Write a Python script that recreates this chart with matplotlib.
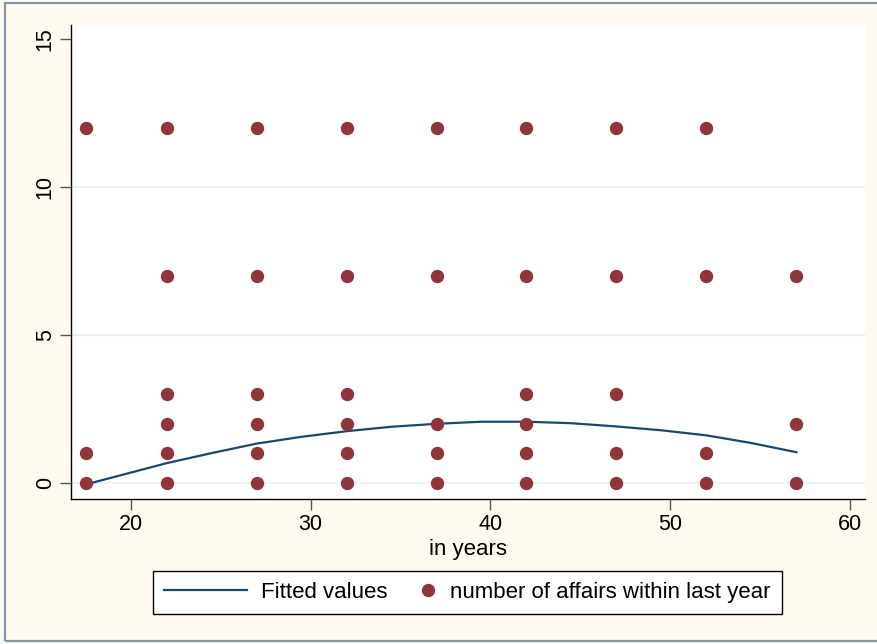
import numpy as np
import matplotlib.pyplot as plt
from matplotlib.patches import Rectangle
from matplotlib.legend_handler import HandlerLine2D

plt.rcParams['font.family'] = ['Liberation Sans', 'DejaVu Sans']

# observed (age, affairs) combinations
age_pts = [17.5, 17.5, 17.5,
           22, 22, 22, 22, 22, 22,
           27, 27, 27, 27, 27, 27,
           32, 32, 32, 32, 32, 32,
           37, 37, 37, 37, 37,
           42, 42, 42, 42, 42, 42,
           47, 47, 47, 47, 47,
           52, 52, 52, 52,
           57, 57, 57]
affairs_pts = [12, 1, 0,
               12, 7, 3, 2, 1, 0,
               12, 7, 3, 2, 1, 0,
               12, 7, 3, 2, 1, 0,
               12, 7, 2, 1, 0,
               12, 7, 3, 2, 1, 0,
               12, 7, 3, 1, 0,
               12, 7, 1, 0,
               7, 2, 0]

# fitted values
fit_age = [17.5, 19.75, 22, 24.5, 27, 29.5, 32, 34.5, 37, 39.5, 42, 44.5, 47, 49.5, 52, 54.5, 57]
fit_val = [-0.05, 0.31, 0.67, 1.01, 1.33, 1.56, 1.75, 1.90, 2.00, 2.07, 2.07, 2.02, 1.91, 1.78, 1.61, 1.35, 1.04]

xticks = [20, 30, 40, 50, 60]
yticks = [0, 5, 10, 15]

navy = '#1a476f'
maroon = '#90353b'
cream = '#fffaf0'


class RightMarkerHandler(HandlerLine2D):
    # put the legend marker at the right end of its handle box
    def create_artists(self, legend, orig_handle, xdescent, ydescent,
                       width, height, fontsize, trans):
        arts = super().create_artists(legend, orig_handle, xdescent, ydescent,
                                      width, height, fontsize, trans)
        xpos = -xdescent + width - 0.4 * fontsize
        for a in arts:
            n = len(a.get_xdata())
            a.set_xdata([xpos] * n)
        return arts


fig = plt.figure(figsize=(8.77, 6.44), dpi=100, facecolor=cream)
fig.patches.append(Rectangle((5 / 877, 3 / 644), 1.0, 1 - 6 / 644, transform=fig.transFigure,
                             fill=False, edgecolor='#7f97a8', linewidth=1.6, zorder=0))

ax = fig.add_axes([71 / 877, 1 - 499 / 644, (865 - 71) / 877, (499 - 25) / 644])
ax.set_facecolor('white')

for y in yticks[:-1]:
    ax.axhline(y, color='#eaf2f3', linewidth=1.6, zorder=0)

line, = ax.plot(fit_age, fit_val, color=navy, linewidth=1.6, label='Fitted values', zorder=2)
dots, = ax.plot(age_pts, affairs_pts, linestyle='none', marker='o', markersize=8.6,
                color=maroon, label='number of affairs within last year', zorder=3)

ax.set_xlim(16.69, 60.81)
ax.set_ylim(-0.54, 15.47)
ax.set_xticks(xticks)
ax.set_yticks(yticks)
ax.tick_params(axis='both', length=8, width=1, color='#555555', labelsize=15.5, pad=3)
ax.tick_params(axis='y', labelrotation=90)
for lab in ax.get_yticklabels():
    lab.set_verticalalignment('center')

for side in ['top', 'right']:
    ax.spines[side].set_visible(False)
for side in ['left', 'bottom']:
    ax.spines[side].set_color('black')
    ax.spines[side].set_linewidth(1)

ax.set_xlabel('in years', fontsize=16, labelpad=3)

leg = ax.legend(handles=[line, dots], loc='center', bbox_to_anchor=(467.5 / 877, 1 - 592.5 / 644),
                bbox_transform=fig.transFigure, ncol=2, fontsize=16, frameon=True,
                fancybox=False, edgecolor='black', handlelength=3.75, columnspacing=-1.5,
                borderpad=0.5, handletextpad=0.6, borderaxespad=0,
                handler_map={dots: RightMarkerHandler(numpoints=1)})
leg.get_frame().set_linewidth(1)
leg.get_frame().set_facecolor('white')
leg.get_frame().set_alpha(1)

fig.savefig('out.png', dpi=100, facecolor=cream)
